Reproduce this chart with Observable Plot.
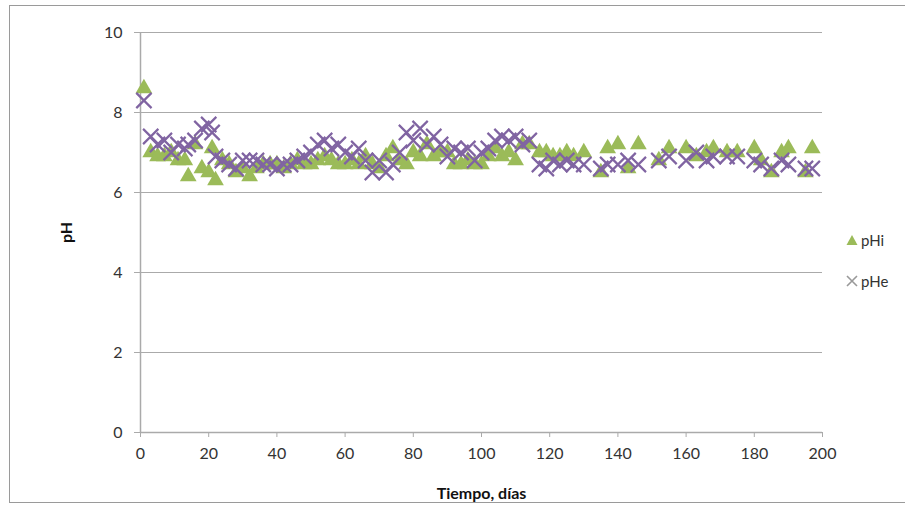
<!DOCTYPE html>
<html>
<head>
<meta charset="utf-8">
<script src="https://cdn.jsdelivr.net/npm/d3@7"></script>
<script src="https://cdn.jsdelivr.net/npm/@observablehq/plot@0.6"></script>
<style>
  html, body { margin: 0; padding: 0; background: #fff; }
  #wrap { position: relative; width: 905px; height: 510px; overflow: hidden; font-family: Lato, "Open Sans", sans-serif; }
  #frame { position: absolute; left: 9px; top: 5px; width: 910px; height: 498px; border: 1px solid #9a9a9a; box-sizing: border-box; }
  #chart { position: absolute; left: 0; top: 0; }
  #legend { position: absolute; left: 845px; top: 229px; font-size: 15px; color: #333; }
  .li { display: flex; align-items: center; height: 22px; margin-bottom: 19px; }
  .li svg { margin-right: 2px; }
</style>
</head>
<body>
<div id="wrap">
  <div id="frame"></div>
  <div id="chart"></div>
  <div id="legend"></div>
</div>
<script>
const days = [1,3,5,7,9,11,13,14,16,18,20,21,22,24,26,28,30,32,34,36,38,40,42,44,46,48,50,52,54,56,58,60,62,64,66,68,70,72,74,76,78,80,82,84,86,88,90,92,94,96,98,100,102,104,106,108,110,112,114,117,119,121,123,125,127,130,135,137,140,143,146,152,155,160,163,166,168,172,175,180,182,185,188,190,195,197];
const pHi = [8.6,7.0,6.9,6.9,7.0,6.8,6.8,6.4,7.2,6.6,6.5,7.1,6.3,6.8,6.7,6.5,6.6,6.4,6.6,6.7,6.7,6.7,6.6,6.7,6.8,6.7,6.7,6.8,6.9,6.8,6.7,6.7,6.8,6.7,6.9,6.7,6.6,6.9,7.1,6.8,6.7,7.0,6.9,7.2,6.9,7.0,7.0,6.7,6.7,6.8,6.7,6.7,6.9,7.1,6.9,7.0,6.8,7.2,7.2,7.0,7.0,6.9,6.9,7.0,6.9,7.0,6.5,7.1,7.2,6.6,7.2,6.8,7.1,7.1,6.9,7.0,7.1,7.0,7.0,7.1,6.8,6.5,7.0,7.1,6.5,7.1];
const pHe = [8.3,7.4,7.2,7.3,7.0,7.2,7.1,7.2,7.3,7.6,7.7,7.5,6.9,6.8,6.7,6.6,6.8,6.8,6.8,6.7,6.7,6.6,6.7,6.7,6.8,6.9,7.0,7.2,7.3,7.1,7.2,7.0,6.9,7.1,6.8,6.5,6.8,6.5,6.7,7.0,7.5,7.3,7.6,7.2,7.4,7.2,6.9,7.1,7.0,7.1,6.8,7.0,7.1,7.3,7.4,7.3,7.4,7.2,7.3,6.7,6.6,6.8,6.7,6.8,6.7,6.7,6.6,6.7,6.7,6.8,6.7,6.8,6.9,6.8,7.0,6.8,6.9,6.9,6.9,6.8,6.7,6.6,6.8,6.7,6.6,6.6];
const xTicks = [0,20,40,60,80,100,120,140,160,180,200];
const yTicks = [0,2,4,6,8,10];
const seriesNames = ["pHi", "pHe"];
const colors = {pHi: "#9bbb59", pHe: "#8064a2"};

const rowsI = days.map((d, i) => ({day: d, v: pHi[i]}));
const rowsE = days.map((d, i) => ({day: d, v: pHe[i]}));

const chart = Plot.plot({
  width: 905,
  height: 510,
  marginLeft: 140,
  marginRight: 83,
  marginTop: 32,
  marginBottom: 78,
  style: {fontFamily: "Lato, 'Open Sans', sans-serif", fontSize: "16px", color: "#333", background: "transparent"},
  x: {domain: [0, 200], ticks: xTicks, label: "Tiempo, días", labelAnchor: "center", labelArrow: "none"},
  y: {domain: [0, 10], ticks: yTicks, label: "pH", labelAnchor: "center", labelArrow: "none"},
  marks: [
    Plot.gridY(yTicks.filter(t => t > 0), {stroke: "#aaaaaa", strokeOpacity: 1, strokeWidth: 1}),
    Plot.ruleY([0], {stroke: "#aaaaaa", strokeWidth: 1.5}),
    Plot.ruleX([0], {stroke: "#aaaaaa", strokeWidth: 1.5}),
    Plot.axisX({ticks: xTicks, tickSize: 5, tickPadding: 10, stroke: "#aaaaaa", label: "Tiempo, días", labelAnchor: "center", labelOffset: 66, labelArrow: "none"}),
    Plot.axisY({ticks: yTicks, tickSize: 6, tickPadding: 12, stroke: "#aaaaaa", label: "pH", labelAnchor: "center", labelOffset: 80, labelArrow: "none"}),
    Plot.dot(rowsI, {x: "day", y: "v", symbol: "triangle", fill: colors.pHi, r: 6.2, stroke: "none"}),
    Plot.dot(rowsE, {x: "day", y: "v", symbol: "times", stroke: colors.pHe, r: 7, strokeWidth: 2.2})
  ]
});
chart.querySelectorAll("[aria-label='x-axis label'] text, [aria-label='y-axis label'] text").forEach(t => { t.setAttribute("font-weight", "bold"); t.setAttribute("fill", "#111"); });
document.getElementById("chart").appendChild(chart);

const legend = document.getElementById("legend");
seriesNames.forEach(name => {
  const item = document.createElement("div");
  item.className = "li";
  const sym = name === "pHi"
    ? `<svg width="14" height="14"><path d="M7,2 L12.5,12 L1.5,12 Z" fill="${colors.pHi}"/></svg>`
    : `<svg width="14" height="14"><path d="M2,2 L12,12 M12,2 L2,12" stroke="#999" stroke-width="1.6"/></svg>`;
  item.innerHTML = sym + `<span>${name}</span>`;
  legend.appendChild(item);
});
</script>
</body>
</html>
